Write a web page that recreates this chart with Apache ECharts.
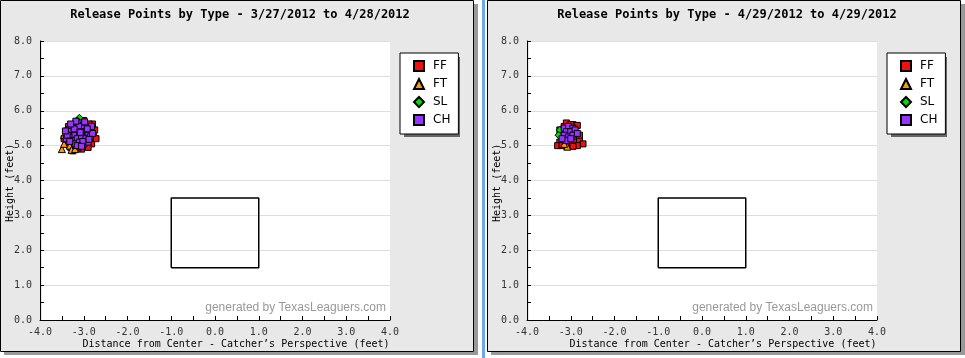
<!DOCTYPE html>
<html><head><meta charset="utf-8">
<script src="https://cdn.jsdelivr.net/npm/echarts@6/dist/echarts.min.js"></script>
<style>html,body{margin:0;padding:0;background:#fff}#c{width:965px;height:358px}</style>
</head><body><div id="c"></div>
<script>
var titles = ["Release Points by Type - 3/27/2012 to 4/28/2012", "Release Points by Type - 4/29/2012 to 4/29/2012"];
var xTicks = ["-4.0","-3.0","-2.0","-1.0","0.0","1.0","2.0","3.0","4.0"];
var yTicks = ["0.0","1.0","2.0","3.0","4.0","5.0","6.0","7.0","8.0"];
var pitchTypes = ["FF","FT","SL","CH"];
var strikeZone = [[-1,1.5],[1,1.5],[1,3.5],[-1,3.5],[-1,1.5]];

var leftFF = [[-2.8,5.5],[-2.78,5.3],[-2.85,5.15],[-2.82,5.05],[-2.95,5.0],[-2.9,4.95],[-3.05,4.9],[-3.15,4.92],[-3.25,4.85],[-3.3,4.95],[-3.4,5.05],[-3.45,5.2],[-2.75,5.45],[-2.8,5.62],[-2.88,5.62],[-3.0,5.72],[-3.1,5.7],[-3.2,5.05],[-2.72,5.2],[-2.95,5.1],[-3.35,5.55],[-3.22,4.95]];
var leftFT = [[-3.5,4.9],[-3.45,5.05],[-3.32,5.0],[-3.28,4.88],[-3.12,4.98],[-3.4,5.2],[-3.45,5.3],[-3.2,4.9]];
var leftSL = [[-3.1,5.8],[-3.15,5.72],[-3.3,5.6],[-3.38,5.25],[-3.32,5.35],[-3.22,5.65],[-3.4,5.45]];
var leftCH = [[-3.3,5.5],[-3.2,5.6],[-3.1,5.65],[-3.0,5.6],[-2.9,5.55],[-3.35,5.35],[-3.25,5.4],[-3.15,5.45],[-3.05,5.5],[-2.95,5.4],[-2.85,5.45],[-3.4,5.2],[-3.3,5.25],[-3.2,5.3],[-3.1,5.3],[-3.0,5.35],[-2.9,5.3],[-3.25,5.15],[-3.15,5.2],[-3.05,5.2],[-2.95,5.2],[-2.85,5.25],[-3.2,5.05],[-3.1,5.1],[-3.0,5.05],[-2.9,5.1],[-3.35,5.45],[-3.28,5.58],[-3.12,5.55],[-2.98,5.68],[-2.82,5.55],[-3.18,5.7],[-3.05,5.4],[-3.38,5.3],[-2.8,5.35],[-3.22,5.48],[-3.08,5.38],[-2.92,5.48],[-3.32,5.12],[-3.02,5.12],[-2.88,5.18],[-3.15,5.0],[-3.05,4.98],[-3.42,5.42],[-3.3,5.62]];

var rightFF = [[-3.1,5.65],[-2.95,5.6],[-2.85,5.58],[-3.25,5.45],[-3.25,5.1],[-3.3,5.0],[-3.2,5.0],[-3.0,5.05],[-2.9,5.1],[-2.8,5.15],[-2.72,5.05],[-2.85,5.0],[-2.95,4.98],[-3.1,5.02],[-2.8,5.3],[-3.0,5.6],[-3.15,5.55]];
var rightFT = [[-3.08,4.97],[-3.15,5.05]];
var rightSL = [[-3.25,5.45],[-3.28,5.3]];
var rightCH = [[-3.15,5.5],[-3.05,5.55],[-2.95,5.5],[-3.1,5.4],[-3.0,5.4],[-2.9,5.45],[-3.15,5.3],[-3.05,5.25],[-2.95,5.3],[-3.1,5.15],[-3.0,5.2],[-3.2,5.2],[-2.85,5.35]];

var colors = {FF:"#ee1111", FT:"#ff9900", SL:"#00dd00", CH:"#9933ff"};
var symbols = {FF:"rect", FT:"triangle", SL:"diamond", CH:"rect"};
var sizes = {FF:6, FT:7, SL:7, CH:6};
var panels = [
  {x0:40, data:{FF:leftFF, FT:leftFT, SL:leftSL, CH:leftCH}},
  {x0:527, data:{FF:rightFF, FT:rightFT, SL:rightSL, CH:rightCH}}
];
var mono = "'DejaVu Sans Mono', monospace";
var grids=[], xAxes=[], yAxes=[], series=[], legends=[], graphics=[];
panels.forEach(function(p, i){
  var px = i===0 ? 0 : 487;
  graphics.push({type:'rect', shape:{x:px+4, y:4, width:474, height:351}, style:{fill:'#999'}, z:-10});
  graphics.push({type:'rect', shape:{x:px+0.5, y:0.5, width:473, height:351}, style:{fill:'#e8e8e8', stroke:'#000', lineWidth:1}, z:-9});
  graphics.push({type:'rect', shape:{x:p.x0+2, y:41, width:348, height:279}, style:{fill:'#fff'}, z:-8});
  graphics.push({type:'rect', shape:{x:p.x0+364, y:57, width:56, height:80}, style:{fill:'#666'}, z:-5});
  graphics.push({type:'text', x:px+240, y:9, style:{text:titles[i], font:"bold 12px "+mono, fill:'#000', textAlign:'center'}, z:10});
  graphics.push({type:'text', x:p.x0+346, y:302, style:{text:'generated by TexasLeaguers.com', font:"12px 'Liberation Sans', sans-serif", fill:'#999', textAlign:'right'}, z:5});
  graphics.push({type:'text', x:p.x0+196, y:339, style:{text:'Distance from Center - Catcher\u2019s Perspective (feet)', font:"10px "+mono, fill:'#000', textAlign:'center'}, z:10});
  graphics.push({type:'text', x:px+5, y:222, rotation:Math.PI/2, style:{text:'Height (feet)', font:"10px "+mono, fill:'#000'}, z:10});
  grids.push({left:p.x0, top:41, width:350, height:279});
  xAxes.push({type:'value', gridIndex:i, min:-4, max:4, interval:1,
    axisLine:{onZero:false, lineStyle:{color:'#000'}}, axisTick:{inside:true, length:4, lineStyle:{color:'#000'}},
    minorTick:{show:true, splitNumber:2, length:4, lineStyle:{color:'#000'}},
    splitLine:{show:false},
    axisLabel:{fontFamily:mono, fontSize:10, color:'#333', margin:7, formatter:function(v){return xTicks[Math.round(v)+4];}}});
  yAxes.push({type:'value', gridIndex:i, min:0, max:8, interval:1,
    axisLine:{show:true, onZero:false, lineStyle:{color:'#000'}}, axisTick:{show:true, inside:true, length:4, lineStyle:{color:'#000'}},
    minorTick:{show:true, splitNumber:2, length:4, lineStyle:{color:'#000'}},
    splitLine:{show:true, lineStyle:{color:'#dddddd'}},
    axisLabel:{fontFamily:mono, fontSize:10, color:'#333', margin:8, formatter:function(v){return yTicks[Math.round(v)];}}});
  series.push({type:'line', xAxisIndex:i, yAxisIndex:i, data:strikeZone, symbol:'none', silent:true,
    lineStyle:{color:'#000', width:1.5}, z:3});
  ["FF","FT","SL","CH"].forEach(function(t){
    series.push({name:t, type:'scatter', xAxisIndex:i, yAxisIndex:i, data:p.data[t],
      symbol:symbols[t], symbolSize:sizes[t],
      itemStyle:{color:colors[t], borderColor:'#000', borderWidth:1, opacity:1}, z:4});
  });
  legends.push({data:pitchTypes, orient:'vertical', left:p.x0+360, top:53, height:66,
    backgroundColor:'#fff', borderColor:'#000', borderWidth:1, padding:[7,8,8,13],
    itemWidth:10, itemHeight:10, itemGap:6, selectedMode:false, z:6,
    textStyle:{fontFamily:"'DejaVu Sans', sans-serif", fontSize:12, lineHeight:12, color:'#000', padding:[0,0,0,4]}});
});
var chart = echarts.init(document.getElementById('c'));
chart.setOption({animation:false, backgroundColor:'#fff',
  graphic:[{type:'rect', shape:{x:482, y:0, width:3, height:358}, style:{fill:'#6fa8e8'}, z:-20}].concat(graphics),
  grid:grids, xAxis:xAxes, yAxis:yAxes, series:series, legend:legends});
</script></body></html>
